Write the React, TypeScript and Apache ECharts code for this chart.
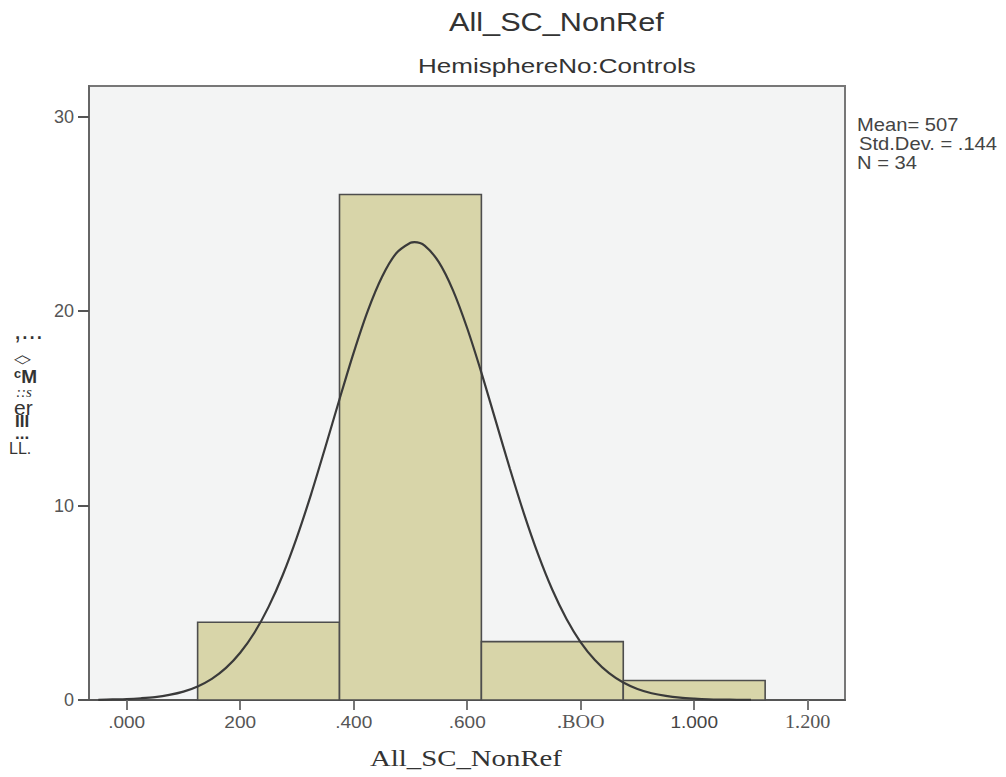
import React, { useEffect, useRef } from "react";
import * as echarts from "echarts";

// ---- data ----
const binStarts = [0.125, 0.375, 0.625, 0.875];
const binEnds = [0.375, 0.625, 0.875, 1.125];
const binCounts = [4, 26, 3, 1];

// fitted normal curve
const curveX = [
  -0.05, -0.025, 0, 0.025, 0.05, 0.075, 0.1, 0.125, 0.15, 0.175, 0.2, 0.225, 0.25, 0.275, 0.3, 0.325, 0.35, 0.375,
  0.4, 0.425, 0.45, 0.475, 0.5, 0.507, 0.525, 0.55, 0.575, 0.6, 0.625, 0.65, 0.675, 0.7, 0.725, 0.75, 0.775, 0.8,
  0.825, 0.85, 0.875, 0.9, 0.925, 0.95, 0.975, 1.0, 1.025, 1.05, 1.075, 1.1,
];
const curveY = [
  0.01, 0.03, 0.05, 0.09, 0.15, 0.26, 0.43, 0.7, 1.09, 1.65, 2.43, 3.46, 4.79, 6.43, 8.38, 10.59, 13.0, 15.47,
  17.87, 20.03, 21.77, 22.98, 23.52, 23.55, 23.37, 22.52, 21.07, 19.12, 16.84, 14.38, 11.92, 9.59, 7.49, 5.67, 4.17, 2.97,
  2.06, 1.38, 0.9, 0.57, 0.35, 0.21, 0.12, 0.07, 0.036, 0.02, 0.01, 0.005,
];

const xTickValues = [0, 0.2, 0.4, 0.6, 0.8, 1.0, 1.2];
const xTickLabels = [".000", "200", ".400", ".600", ".BOO", "1.000", "1.200"];
const xTickSerif = [false, false, false, false, true, false, true];

const titleText = "All_SC_NonRef";
const subtitleText = "HemisphereNo:Controls";
const statsLines = ["Mean= 507", "Std.Dev. = .144", "N = 34"];
const xAxisName = "All_SC_NonRef";
// garbled y-axis title pieces as they appear in the reference
const yTitlePieces = [",...", "\u25C7", "\u1D9C\u004D", "::s", "er", "III", "...", "LL."];

const SANS = "Liberation Sans, Arial, Helvetica, sans-serif";
const SERIF = "Liberation Serif, Times New Roman, serif";

export default function App() {
  const ref = useRef<HTMLDivElement>(null);

  useEffect(() => {
    document.body.style.margin = "0";
    if (!ref.current) return;
    const chart = echarts.init(ref.current, undefined, { renderer: "svg" });

    const barData = binStarts.map((s, i) => [s, binEnds[i], binCounts[i]]);
    const curveData = curveX.map((x, i) => [x, curveY[i]]);

    const yPiecePos: any[] = [
      { y: 330, size: 26, font: SANS, x: 14 },
      { y: 359, size: 22, font: "DejaVu Sans", x: 14, scaleY: 0.55 },
      { y: 376, size: 19, font: SANS, x: 14, weight: "bold" },
      { y: 392, size: 15, font: SERIF, x: 16, style: "italic" },
      { y: 407, size: 21, font: SANS, x: 14 },
      { y: 421, size: 17, font: SANS, x: 15, weight: "bold" },
      { y: 433, size: 17, font: SANS, x: 15, weight: "bold" },
      { y: 448, size: 16, font: SANS, x: 9 },
    ];

    const staticGraphics: any[] = [
      {
        type: "text",
        x: 449,
        y: 22,
        scaleX: 1.18,
        style: { text: titleText, fontFamily: SANS, fontSize: 26, fill: "#333", textAlign: "left", textVerticalAlign: "middle" },
      },
      {
        type: "text",
        x: 418,
        y: 66,
        scaleX: 1.24,
        style: { text: subtitleText, fontFamily: SANS, fontSize: 21, fill: "#333", textAlign: "left", textVerticalAlign: "middle" },
      },
      {
        type: "text",
        x: 370,
        y: 758,
        scaleX: 1.2,
        style: { text: xAxisName, fontFamily: SERIF, fontSize: 24, fill: "#333", textAlign: "left", textVerticalAlign: "middle" },
      },
      ...statsLines.map((t, i) => ({
        type: "text",
        x: i === 1 ? 859 : 857,
        y: 125 + i * 19,
        scaleX: 1.12,
        style: { text: t, fontFamily: SANS, fontSize: 18, fill: "#444", textAlign: "left", textVerticalAlign: "middle" },
      })),
      ...yTitlePieces.map((t, i) => ({
        type: "text",
        x: yPiecePos[i].x,
        y: yPiecePos[i].y,
        scaleY: yPiecePos[i].scaleY || 1,
        style: {
          text: t,
          fontFamily: yPiecePos[i].font,
          fontSize: yPiecePos[i].size,
          fontWeight: yPiecePos[i].weight || "normal",
          fontStyle: yPiecePos[i].style || "normal",
          fill: "#333",
          textAlign: "left",
          textVerticalAlign: "middle",
        },
      })),
    ];

    chart.setOption({
      animation: false,
      backgroundColor: "#ffffff",
      textStyle: { fontFamily: SANS },
      grid: {
        left: 89,
        right: 161,
        top: 86,
        bottom: 77,
        show: true,
        backgroundColor: "#f3f4f4",
        borderColor: "#777",
        borderWidth: 2,
      },
      xAxis: {
        type: "value",
        position: "bottom",
        min: -0.0664,
        max: 1.2657,
        axisLine: { show: true, onZero: false, lineStyle: { color: "#555", width: 2 } },
        axisTick: {
          show: true,
          length: 10,
          customValues: xTickValues,
          lineStyle: { color: "#777", width: 2 },
        },
        axisLabel: { show: false },
        splitLine: { show: false },
      },
      yAxis: {
        type: "value",
        min: 0,
        max: 31.58,
        interval: 10,
        axisLine: { show: true, onZero: false, lineStyle: { color: "#666", width: 2 } },
        axisTick: { show: true, length: 11, lineStyle: { color: "#555", width: 2 } },
        axisLabel: {
          margin: 15,
          color: "#555",
          fontFamily: SANS,
          fontSize: 18,
          showMaxLabel: false,
        },
        splitLine: { show: false },
      },
      graphic: staticGraphics,
      series: [
        {
          type: "custom",
          data: barData,
          encode: { x: [0, 1], y: 2 },
          z: 2,
          renderItem: (params: any, api: any) => {
            const p0 = api.coord([api.value(0), 0]);
            const p1 = api.coord([api.value(1), api.value(2)]);
            return {
              type: "rect",
              shape: { x: p0[0], y: p1[1], width: p1[0] - p0[0], height: p0[1] - p1[1] },
              style: { fill: "#d8d5a9", stroke: "#4d4d4d", lineWidth: 1.6 },
            };
          },
        },
        {
          type: "line",
          data: curveData,
          smooth: 0.3,
          symbol: "none",
          z: 3,
          lineStyle: { color: "#3a3a3a", width: 2.2 },
        },
      ],
    });

    // x tick labels placed through the x axis scale
    const baseY = chart.convertToPixel({ yAxisIndex: 0 }, 0) as number;
    const tickLabelGraphics = xTickValues.map((v, i) => ({
      type: "text",
      x: chart.convertToPixel({ xAxisIndex: 0 }, v) as number,
      y: baseY + 22,
      scaleX: 1.12,
      style: {
        text: xTickLabels[i],
        fontFamily: xTickSerif[i] ? SERIF : SANS,
        fontSize: xTickSerif[i] ? 18 : 17,
        fontWeight: "normal",
        fill: i === 5 ? "#444" : "#555",
        textAlign: "center",
        textVerticalAlign: "middle",
      },
    }));
    chart.setOption({ graphic: [...staticGraphics, ...tickLabelGraphics] });

    return () => {
      chart.dispose();
    };
  }, []);

  return <div ref={ref} style={{ width: 1006, height: 777 }} />;
}
